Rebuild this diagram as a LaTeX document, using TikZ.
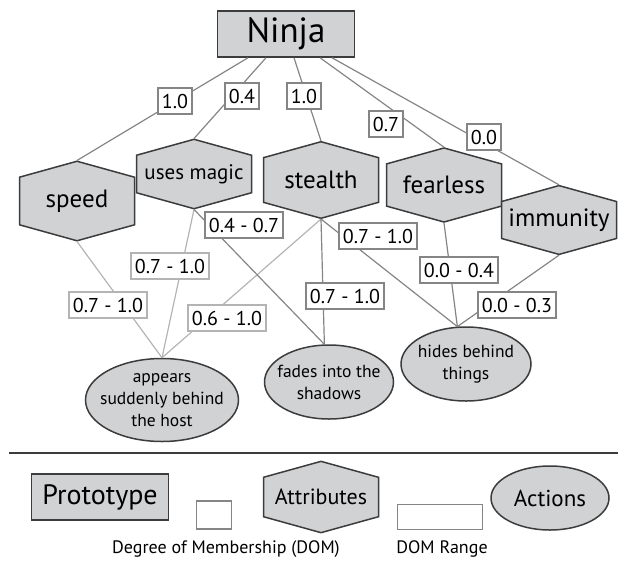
\documentclass[tikz,border=0pt]{standalone}
\usepackage{fontspec}
\setmainfont{PT Sans}
\usetikzlibrary{shapes.geometric,shapes.symbols,calc}

\definecolor{shade}{HTML}{D1D2D4}
\definecolor{rim}{HTML}{3C3C3C}
\definecolor{midgray}{HTML}{858585}
\definecolor{palegray}{HTML}{B4B4B4}

\tikzset{
  proto/.style={draw=rim, fill=shade, line width=1.5pt, minimum width=137pt, minimum height=46pt},
  attr/.style={signal, signal to=north and south, signal pointer angle=149, draw=rim, fill=shade, line width=1.5pt,
    minimum width=115pt, minimum height=65pt, inner sep=0pt, font=\fontsize{25}{30}\selectfont},
  act/.style={ellipse, draw=rim, fill=shade, line width=1.5pt, inner xsep=-12pt, inner ysep=-3pt,
    align=center, font=\fontsize{17.5}{22}\selectfont},
  dom/.style={draw=midgray, fill=white, line width=1.3pt, inner xsep=4pt, inner ysep=0pt, minimum height=26pt,
    font=\fontsize{20}{24}\selectfont},
  domlight/.style={dom, draw=palegray},
  link/.style={draw=midgray, line width=1.2pt},
  linklight/.style={draw=palegray, line width=1.2pt}
}

\begin{document}
\begin{tikzpicture}[x=1pt, y=-1pt]
\useasboundingbox (0,0) rectangle (618,560);

\node (ninja) [proto, font=\fontsize{35}{40}\selectfont] at (286,34) {Ninja};
\node (speed) [attr] at (77,201) {speed};
\node (magic) [attr, font=\fontsize{21}{26}\selectfont] at (194,174) {uses magic};
\node (stealth) [attr] at (321,180) {stealth};
\node (fearless) [attr] at (444,185) {fearless};
\node (immunity) [attr] at (559,220) {immunity};

\node (appears) [act, minimum width=153pt, minimum height=83pt] at (162,400) {appears\\suddenly behind\\the host};
\node (fades) [act, minimum width=129pt, minimum height=74pt] at (329,382) {fades into the\\shadows};
\node (hides) [act, minimum width=130pt, minimum height=74pt] at (466,364) {hides behind\\things};

\draw[link] ($(ninja.south)+(-38,0)$) -- (speed.north);
\draw[link] ($(ninja.south)+(-20,0)$) -- (magic.north);
\draw[link] ($(ninja.south)+(8,0)$) -- (stealth.north);
\draw[link] ($(ninja.south)+(34,0)$) -- (fearless.north);
\draw[link] ($(ninja.south)+(46,0)$) -- (immunity.north);

\draw[linklight] (speed.south) -- (appears.north);
\draw[linklight] (magic.south) -- (appears.north);
\draw[linklight] (stealth.south) -- (appears.north);
\draw[link] (magic.south) -- (fades.97);
\draw[link] (stealth.south) -- (fades.97);
\draw[link] (stealth.south) -- (hides.103);
\draw[link] (fearless.south) -- (hides.103);
\draw[link] (immunity.south) -- (hides.103);

\node (dspeed) [dom] at (175,101) {1.0};
\node (dmagic) [dom] at (242,96) {0.4};
\node (dstealth) [dom] at (304,96) {1.0};
\node (dfearless) [dom] at (386,124) {0.7};
\node (dimmunity) [dom] at (484,137) {0.0};

\node (rspeed) [domlight] at (108,305) {0.7 - 1.0};
\node (rmagic) [domlight] at (170,266) {0.7 - 1.0};
\node (rstealth) [domlight] at (227,318) {0.6 - 1.0};
\node (rmagicf) [dom] at (244,225) {0.4 - 0.7};
\node (rstealthf) [dom] at (345,296) {0.7 - 1.0};
\node (rstealthh) [dom] at (378,236) {0.7 - 1.0};
\node (rfearless) [dom] at (459,270) {0.0 - 0.4};
\node (rimmunity) [dom] at (517,305) {0.0 - 0.3};

\draw[rim, line width=2pt] (9,453) -- (618,453);

\node (legproto) [proto, font=\fontsize{28}{32}\selectfont] at (100,497) {Prototype};
\node (legdom) [dom, minimum width=35pt, minimum height=28pt] at (214,515) {};
\node (legattr) [attr, font=\fontsize{22}{26}\selectfont] at (321,497) {Attributes};
\node (legrange) [dom, minimum width=85pt, minimum height=25pt] at (440,517) {};
\node (legact) [act, minimum width=118pt, minimum height=64pt, font=\fontsize{23}{28}\selectfont] at (550,498) {Actions};
\node (domtext) [font=\fontsize{18}{21}\selectfont] at (226,549) {Degree of Membership (DOM)};
\node (rangetext) [font=\fontsize{18}{21}\selectfont] at (442,549) {DOM Range};
\end{tikzpicture}
\end{document}
